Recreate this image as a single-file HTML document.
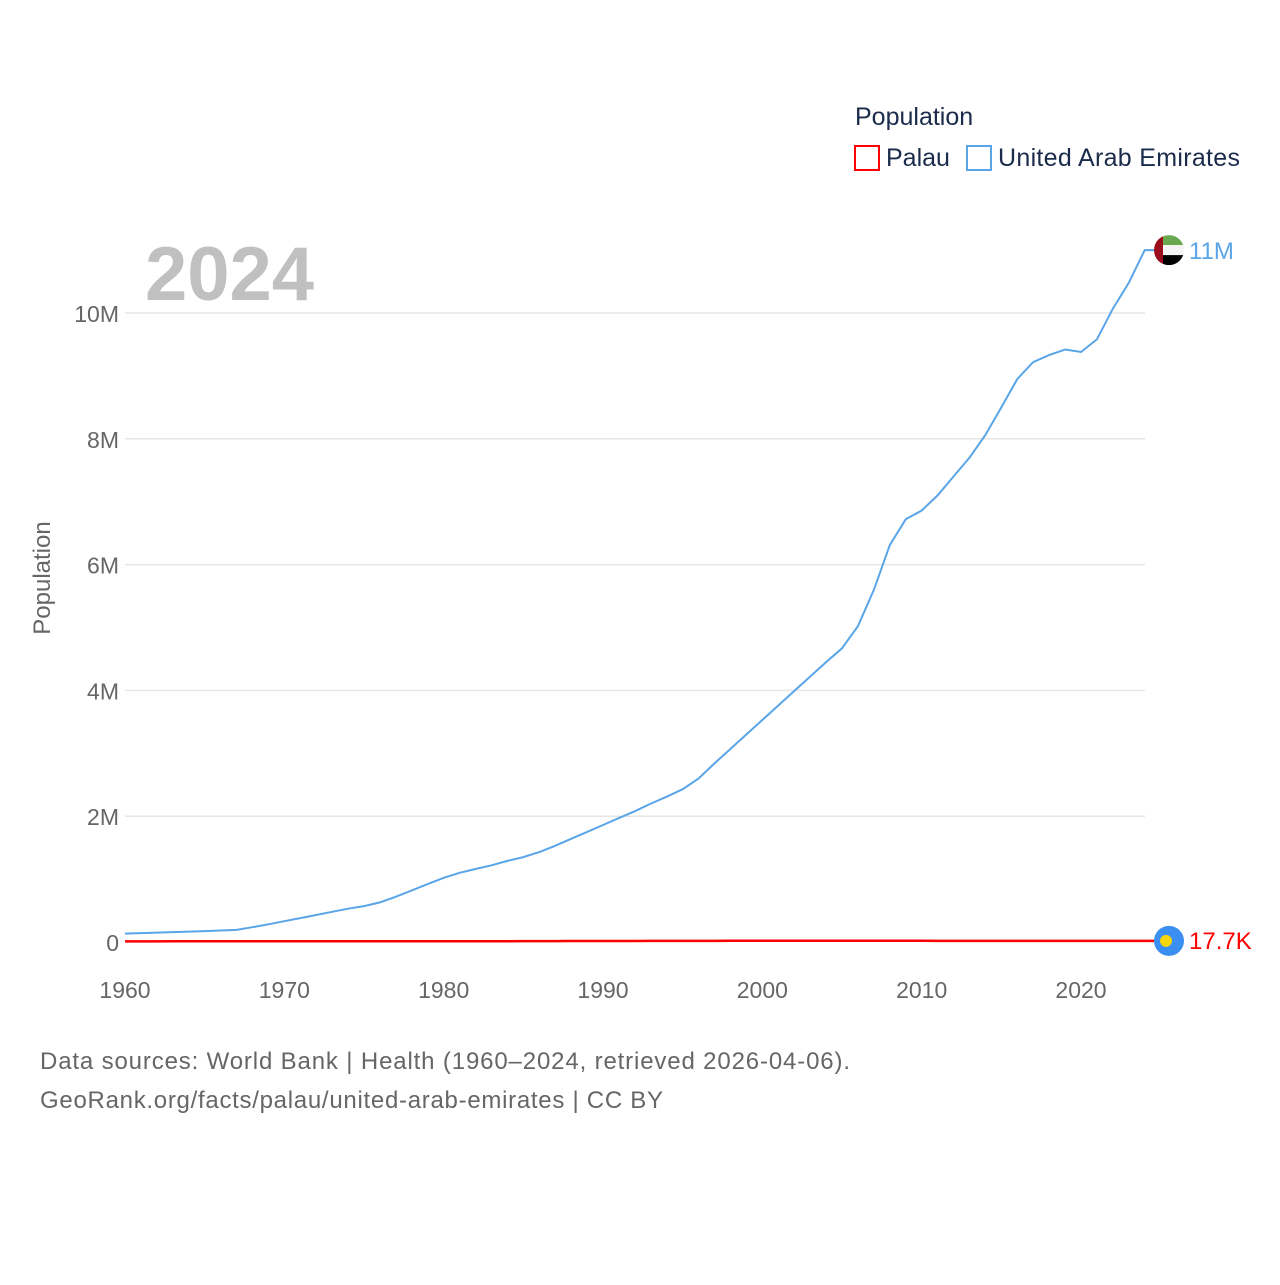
<!DOCTYPE html>
<html><head><meta charset="utf-8"><style>
body{margin:0;background:#fff;font-family:"Liberation Sans",sans-serif;}
svg text{font-family:"Liberation Sans",sans-serif;}
</style></head><body>
<svg id="chart" width="1280" height="1280" xmlns="http://www.w3.org/2000/svg">
<rect width="1280" height="1280" fill="#fff"/>
<text x="855" y="125" font-size="25" fill="#1b2b4b">Population</text>
<g><rect x="855" y="146" width="24" height="24" fill="none" stroke="#ff0000" stroke-width="2"/><text x="886" y="166" font-size="25" fill="#1b2b4b">Palau</text></g>
<g><rect x="967" y="146" width="24" height="24" fill="none" stroke="#5aa5e8" stroke-width="2"/><text x="998" y="166" font-size="25" fill="#1b2b4b" textLength="242">United Arab Emirates</text></g>
<text x="145" y="300" font-size="76" font-weight="bold" fill="#c0c0c0">2024</text>
<g id="grid"></g><g id="axes"></g><g id="lines"></g>
<text transform="translate(50,578) rotate(-90)" text-anchor="middle" font-size="24" fill="#666">Population</text>
<text x="40" y="1069" font-size="24" fill="#666" textLength="810">Data sources: World Bank | Health (1960–2024, retrieved 2026-04-06).</text>
<text x="40" y="1108" font-size="24" fill="#666" textLength="623">GeoRank.org/facts/palau/united-arab-emirates | CC BY</text>
</svg>
<script>
const years=[];for(let y=1960;y<=2024;y++)years.push(y);
const uae=[0.133,0.141,0.149,0.157,0.165,0.174,0.183,0.193,0.235,0.282,0.33,0.38,0.43,0.48,0.53,0.57,0.63,0.72,0.82,0.92,1.02,1.1,1.16,1.22,1.29,1.35,1.43,1.53,1.64,1.75,1.86,1.97,2.08,2.2,2.31,2.43,2.6,2.84,3.07,3.3,3.53,3.76,3.99,4.22,4.45,4.67,5.02,5.6,6.31,6.72,6.86,7.1,7.4,7.7,8.06,8.5,8.95,9.22,9.33,9.42,9.38,9.58,10.07,10.48,11.0];
const palau=[0.0096,0.0099,0.0102,0.0105,0.0108,0.0111,0.0113,0.0115,0.0117,0.0118,0.0119,0.012,0.0121,0.0122,0.0123,0.0124,0.0125,0.0126,0.0127,0.0128,0.0122,0.0125,0.0128,0.0131,0.0135,0.0139,0.0144,0.0148,0.0152,0.0156,0.0153,0.0158,0.0163,0.0168,0.0172,0.0175,0.0178,0.0181,0.0184,0.0187,0.019,0.0192,0.0194,0.0195,0.0196,0.0197,0.0198,0.0199,0.0199,0.0199,0.0185,0.0181,0.0178,0.0177,0.0177,0.0177,0.0178,0.0179,0.018,0.0181,0.018,0.018,0.0178,0.0177,0.0177];
const yTicks=[0,2,4,6,8,10];const yTickLabels=["0","2M","4M","6M","8M","10M"];
const xTicks=[1960,1970,1980,1990,2000,2010,2020];
const X=y=>125+(y-1960)*(1081-125)/60;
const Y=v=>942-v*62.9;
const NS="http://www.w3.org/2000/svg";
function mk(t,a,p){const e=document.createElementNS(NS,t);for(const k in a)e.setAttribute(k,a[k]);p.appendChild(e);return e;}
const grid=document.getElementById('grid'),axes=document.getElementById('axes'),lines=document.getElementById('lines');
yTicks.forEach((v,i)=>{
 if(v>0){const l=mk('line',{x1:125,x2:1145,y1:Y(v),y2:Y(v),stroke:'#e6e6e6','stroke-width':1.5},grid);
 
 }
 const t=mk('text',{x:119,y:Y(v)+9,'text-anchor':'end','font-size':23,fill:'#666'},axes);t.textContent=yTickLabels[i];
 
 
});
xTicks.forEach(y=>{const t=mk('text',{x:X(y),y:998,'text-anchor':'middle','font-size':23,fill:'#666'},axes);t.textContent=y;
 
 });
function path(arr){return arr.map((v,i)=>(i?'L':'M')+X(years[i]).toFixed(1)+','+Y(v).toFixed(1)).join('')+'L1155,'+Y(arr[arr.length-1]).toFixed(1);}
const pu=mk('path',{d:path(uae),fill:'none',stroke:'#5aa5e8','stroke-width':2},lines);


const pp=mk('path',{d:path(palau),fill:'none',stroke:'#ff0000','stroke-width':2.5},lines);


const fy=Y(uae[uae.length-1]);
const fg=mk('g',{},lines);


mk('clipPath',{id:'fc'},fg).appendChild(document.createElementNS(NS,'circle'));
const cc=document.querySelector('#fc circle');cc.setAttribute('cx',1169);cc.setAttribute('cy',fy);cc.setAttribute('r',15);
const fgi=mk('g',{'clip-path':'url(#fc)'},fg);
mk('rect',{x:1154,y:fy-15,width:30,height:10,fill:'#6aa84f'},fgi);
mk('rect',{x:1154,y:fy-5,width:30,height:10,fill:'#f4f4f4'},fgi);
mk('rect',{x:1154,y:fy+5,width:30,height:10,fill:'#000'},fgi);
mk('rect',{x:1154,y:fy-15,width:9,height:30,fill:'#9b0d1c'},fgi);
const lu=mk('text',{x:1189,y:fy+9,'font-size':24,fill:'#5aa5e8'},lines);lu.textContent='11M';


const py=Y(palau[palau.length-1]);
const pm=mk('g',{},lines);


mk('circle',{cx:1169,cy:py,r:15,fill:'#3b8ff0'},pm);
mk('circle',{cx:1166,cy:py,r:6,fill:'#f5d60a'},pm);
const lp=mk('text',{x:1189,y:py+8,'font-size':24,fill:'#ff0000'},lines);lp.textContent='17.7K';


</script>
</body></html>
